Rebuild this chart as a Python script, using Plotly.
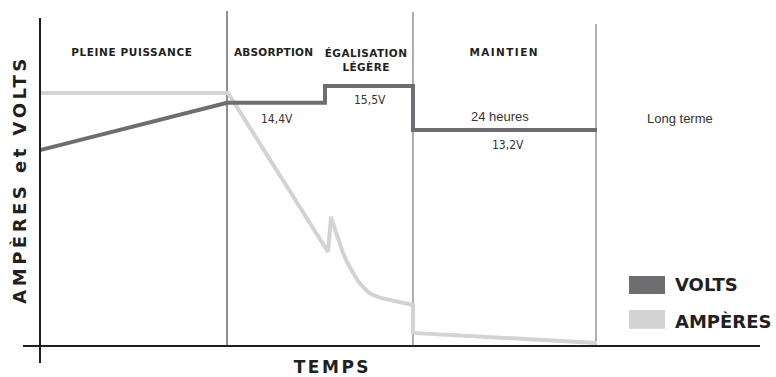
import json
import plotly.graph_objects as go

# Charging profile: time in arbitrary units, levels on a relative 0-100 scale
volts_t = [0, 18.7, 28.5, 28.5, 37.3, 37.3, 55.7]
volts_v = [58.3, 72.4, 72.4, 77.4, 77.4, 64.3, 64.3]

amps_t = [0, 18.8, 28.8, 29.1, 29.7, 30.3, 30.8, 31.3, 31.8, 32.3, 32.8, 33.3,
          34.0, 35.0, 36.0, 37.2, 37.3, 37.3, 55.7]
amps_v = [75.3, 75.3, 28.0, 38.4, 33.0, 27.7, 24.4, 21.7, 19.3, 17.6, 16.1, 15.2,
          14.4, 13.7, 13.1, 12.2, 12.2, 3.9, 0.9]

# Phase boundaries (time) and the height each divider reaches
phase_bounds = [18.7, 37.3, 55.6]
phase_tops = [99.7, 99.4, 95.8]
phase_colors = ["#231f20", "#939598", "#939598"]
phase_widths = [1, 1.5, 1.5]

phase_names = ["PLEINE PUISSANCE", "ABSORPTION", "ÉGALISATION<br>LÉGÈRE", "MAINTIEN"]
phase_label_t = [9.2, 23.3, 32.6, 46.4]
phase_label_y = [87.5, 87.5, 85.1, 87.5]
phase_spacing = [0.6, 0.2, 0.4, 1.4]

voltage_labels = ["14,4V", "15,5V", "13,2V"]
voltage_label_t = [23.7, 33.0, 46.8]
voltage_label_y = [67.6, 73.2, 59.8]

note_labels = ["24 heures", "Long terme"]
note_label_t = [46.0, 64.0]
note_label_y = [68.2, 67.6]

VOLT_COLOR = "#6d6e72"
AMP_COLOR = "#d1d3d4"
INK = "#231f20"
BOLD = dict(family="DejaVu Sans", weight="bold", color=INK)

fig = go.Figure()
fig.add_trace(go.Scatter(x=amps_t, y=amps_v, mode="lines", name="AMPÈRES",
                         line=dict(color=AMP_COLOR, width=4), hoverinfo="skip"))
fig.add_trace(go.Scatter(x=volts_t, y=volts_v, mode="lines", name="VOLTS",
                         line=dict(color=VOLT_COLOR, width=4), hoverinfo="skip"))

shapes = []
# axes
shapes.append(dict(type="line", x0=-1.7, x1=72, y0=0, y1=0, line=dict(color=INK, width=2)))
shapes.append(dict(type="line", x0=0, x1=0, y0=-5.06, y1=97.6, line=dict(color=INK, width=2)))
# phase dividers
for t, top, c, w in zip(phase_bounds, phase_tops, phase_colors, phase_widths):
    shapes.append(dict(type="line", x0=t, x1=t, y0=0, y1=top, line=dict(color=c, width=w), layer="below"))
# legend swatches
shapes.append(dict(type="rect", x0=58.9, x1=62.5, y0=15.5, y1=20.8, fillcolor=VOLT_COLOR, line=dict(width=0)))
shapes.append(dict(type="rect", x0=58.9, x1=62.5, y0=5.1, y1=10.7, fillcolor=AMP_COLOR, line=dict(width=0)))

annotations = []
spacing = []


def add_text(text, x, y, font, sp=0, **kw):
    annotations.append(dict(text=text, x=x, y=y, xref="x", yref="y", showarrow=False,
                            font=font, **kw))
    spacing.append(sp)


for name, t, y, sp in zip(phase_names, phase_label_t, phase_label_y, phase_spacing):
    add_text(name, t, y, dict(BOLD, size=10.5), sp)
for lab, t, y in zip(voltage_labels, voltage_label_t, voltage_label_y):
    add_text(lab, t, y, dict(family="DejaVu Sans Condensed, Liberation Sans Narrow, Liberation Sans",
                             size=12, color="#333333"))
for lab, t, y in zip(note_labels, note_label_t, note_label_y):
    add_text(lab, t, y, dict(family="Liberation Sans", size=13, color="#333333"))

add_text("AMPÈRES et VOLTS", -2.0, 49.5, dict(BOLD, size=18), 3.5, textangle=-90)
add_text("TEMPS", 29.2, -6.25, dict(BOLD, size=17), 2.5)
add_text("VOLTS", 63.3, 18.2, dict(BOLD, size=18), 0, xanchor="left")
add_text("AMPÈRES", 63.3, 7.4, dict(BOLD, size=18), 0, xanchor="left")

fig.update_layout(
    width=776, height=377, autosize=False,
    margin=dict(l=0, r=0, t=0, b=0),
    paper_bgcolor="white", plot_bgcolor="white",
    showlegend=False,
    xaxis=dict(visible=False, range=[-4.0, 73.6], fixedrange=True),
    yaxis=dict(visible=False, range=[-9.23, 102.98], fixedrange=True),
    shapes=shapes,
    annotations=annotations,
)

# letter tracking for the bold labels
post = (
    "var gd=document.getElementById('{plot_id}');"
    "var sp=" + json.dumps(spacing) + ";"
    "gd.querySelectorAll('g.annotation').forEach(function(g){"
    "var i=+g.getAttribute('data-index');var t=g.querySelector('text');"
    "if(t&&sp[i]){t.style.letterSpacing=sp[i]+'px';}});"
)

fig.write_html("out.html", config={"displayModeBar": False, "staticPlot": True}, post_script=post)
